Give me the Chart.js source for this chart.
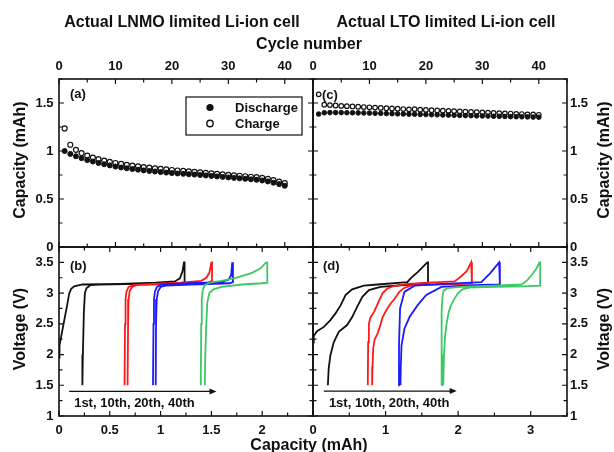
<!DOCTYPE html>
<html>
<head>
<meta charset="utf-8">
<script src="https://cdn.jsdelivr.net/npm/chart.js@4.4.0/dist/chart.umd.min.js"></script>
<style>
  body { margin: 0; width: 614px; height: 452px; overflow: hidden; position: relative; background: #fff;
         font-family: "Liberation Sans", Arial, sans-serif; font-weight: bold; color: #111; }
  canvas { position: absolute; left: 0; top: 0; }
  .t { position: absolute; white-space: nowrap; font-size: 16px; transform: translate(-50%, -50%); }
  .r { transform: translate(-50%, -50%) rotate(-90deg); }
</style>
</head>
<body>
<canvas id="chartA" width="614" height="452"></canvas>
<canvas id="chartB" width="614" height="452"></canvas>
<canvas id="chartC" width="614" height="452"></canvas>
<canvas id="chartD" width="614" height="452"></canvas>

<div class="t" style="left:182px;top:22px">Actual LNMO limited Li-ion cell</div>
<div class="t" style="left:446px;top:22px">Actual LTO limited Li-ion cell</div>
<div class="t" style="left:309px;top:44px">Cycle number</div>
<div class="t" style="left:309px;top:445px">Capacity (mAh)</div>
<div class="t r" style="left:20px;top:160px">Capacity (mAh)</div>
<div class="t r" style="left:604px;top:160px">Capacity (mAh)</div>
<div class="t r" style="left:20px;top:329px">Voltage (V)</div>
<div class="t r" style="left:604px;top:329px">Voltage (V)</div>

<script>
const cycles = [1, 2, 3, 4, 5, 6, 7, 8, 9, 10, 11, 12, 13, 14, 15, 16, 17, 18, 19, 20,
  21, 22, 23, 24, 25, 26, 27, 28, 29, 30, 31, 32, 33, 34, 35, 36, 37, 38, 39, 40];

// panel (a): LNMO limited cell, capacity per cycle (mAh)
const lnmoDischarge = [1.00, 0.97, 0.945, 0.925, 0.905, 0.89, 0.875, 0.862, 0.85, 0.838,
  0.828, 0.82, 0.812, 0.805, 0.798, 0.792, 0.786, 0.78, 0.775, 0.77,
  0.766, 0.762, 0.758, 0.754, 0.75, 0.745, 0.74, 0.735, 0.73, 0.725,
  0.72, 0.715, 0.71, 0.705, 0.70, 0.693, 0.683, 0.67, 0.655, 0.638];
const lnmoCharge = [1.235, 1.065, 1.012, 0.978, 0.952, 0.932, 0.915, 0.90, 0.887, 0.875,
  0.865, 0.856, 0.848, 0.84, 0.833, 0.826, 0.82, 0.814, 0.808, 0.802,
  0.797, 0.792, 0.787, 0.782, 0.777, 0.772, 0.767, 0.762, 0.757, 0.752,
  0.747, 0.742, 0.737, 0.732, 0.727, 0.72, 0.71, 0.697, 0.682, 0.665];

// panel (c): LTO limited cell
const ltoDischarge = [1.385, 1.398, 1.40, 1.40, 1.40, 1.399, 1.398, 1.397, 1.396, 1.395,
  1.393, 1.392, 1.39, 1.389, 1.387, 1.386, 1.384, 1.383, 1.381, 1.38,
  1.378, 1.377, 1.375, 1.374, 1.372, 1.371, 1.369, 1.368, 1.366, 1.365,
  1.364, 1.362, 1.361, 1.36, 1.358, 1.357, 1.356, 1.355, 1.353, 1.352];
const ltoCharge = [1.59, 1.482, 1.478, 1.474, 1.47, 1.467, 1.464, 1.461, 1.458, 1.455,
  1.452, 1.449, 1.446, 1.443, 1.44, 1.437, 1.434, 1.436, 1.43, 1.428,
  1.425, 1.422, 1.42, 1.418, 1.415, 1.412, 1.41, 1.407, 1.405, 1.402,
  1.40, 1.397, 1.395, 1.392, 1.39, 1.387, 1.385, 1.382, 1.38, 1.377];

// panel (b): voltage profiles [capacity mAh, voltage V], charge then discharge
const lnmo1st = [[0, 1.95], [0.005, 2.15], [0.02, 2.28], [0.045, 2.5], [0.08, 2.8], [0.1, 2.99],
  [0.12, 3.07], [0.15, 3.11], [0.23, 3.14], [0.6, 3.15], [0.95, 3.17], [1.14, 3.19], [1.19, 3.24],
  [1.215, 3.35], [1.23, 3.5], [1.236, 3.5], [1.236, 3.18], [1.2, 3.16], [0.8, 3.15], [0.4, 3.14],
  [0.31, 3.13], [0.27, 3.08], [0.255, 3.0], [0.245, 2.7], [0.235, 2.0], [0.23, 1.5]];
const lnmo10th = [[0.645, 1.5], [0.65, 2.5], [0.655, 2.9], [0.665, 3.03], [0.685, 3.1], [0.73, 3.13],
  [0.9, 3.15], [1.2, 3.17], [1.4, 3.2], [1.45, 3.25], [1.48, 3.33], [1.5, 3.5], [1.506, 3.5],
  [1.506, 3.2], [1.47, 3.17], [1.2, 3.15], [0.9, 3.14], [0.76, 3.13], [0.72, 3.1], [0.695, 3.03],
  [0.685, 2.9], [0.68, 2.5], [0.675, 1.5]];
const lnmo20th = [[0.925, 1.5], [0.93, 2.5], [0.935, 2.9], [0.945, 3.03], [0.965, 3.1], [1.01, 3.14],
  [1.3, 3.16], [1.6, 3.18], [1.67, 3.22], [1.695, 3.3], [1.705, 3.5], [1.712, 3.5], [1.712, 3.18],
  [1.68, 3.16], [1.3, 3.14], [1.05, 3.12], [1.0, 3.1], [0.975, 3.03], [0.962, 2.9], [0.955, 2.5],
  [0.952, 1.5]];
const lnmo40th = [[1.395, 1.5], [1.4, 2.5], [1.405, 2.9], [1.415, 3.05], [1.435, 3.13], [1.48, 3.17],
  [1.6, 3.2], [1.75, 3.25], [1.9, 3.33], [1.98, 3.4], [2.04, 3.5], [2.05, 3.5], [2.05, 3.17],
  [2.0, 3.16], [1.8, 3.14], [1.6, 3.1], [1.52, 3.06], [1.48, 3.0], [1.46, 2.85], [1.45, 2.5],
  [1.44, 2.0], [1.435, 1.5]];

// panel (d)
const lto1st = [[0, 2.2], [0.01, 2.3], [0.055, 2.38], [0.15, 2.45], [0.24, 2.56], [0.31, 2.67],
  [0.38, 2.8], [0.45, 2.97], [0.54, 3.06], [0.7, 3.12], [0.89, 3.14], [1.3, 3.18], [1.345, 3.24],
  [1.45, 3.35], [1.575, 3.5], [1.585, 3.5], [1.585, 3.16], [1.35, 3.14], [0.93, 3.1], [0.77, 3.05],
  [0.68, 2.94], [0.61, 2.78], [0.54, 2.61], [0.47, 2.48], [0.355, 2.37], [0.286, 2.2], [0.24, 1.99],
  [0.216, 1.77], [0.205, 1.5]];
const lto10th = [[0.755, 1.5], [0.76, 2.2], [0.77, 2.5], [0.79, 2.6], [0.84, 2.69], [0.9, 2.85],
  [0.96, 3.0], [1.02, 3.07], [1.1, 3.11], [1.3, 3.15], [1.6, 3.17], [1.95, 3.19], [2.04, 3.27],
  [2.12, 3.36], [2.18, 3.5], [2.19, 3.5], [2.19, 3.16], [2.1, 3.15], [1.7, 3.14], [1.45, 3.13],
  [1.35, 3.12], [1.25, 3.08], [1.19, 3.02], [1.12, 2.9], [1.07, 2.83], [1.01, 2.72], [0.96, 2.61],
  [0.92, 2.45], [0.89, 2.34], [0.85, 2.25], [0.83, 2.1], [0.82, 1.8], [0.815, 1.5]];
const lto20th = [[1.175, 1.5], [1.185, 2.15], [1.2, 2.75], [1.26, 3.02], [1.4, 3.12], [1.8, 3.15],
  [2.32, 3.18], [2.44, 3.32], [2.565, 3.5], [2.575, 3.5], [2.575, 3.14], [2.2, 3.13], [1.77, 3.1],
  [1.56, 2.97], [1.44, 2.8], [1.33, 2.61], [1.26, 2.42], [1.22, 2.15], [1.21, 1.8], [1.205, 1.5]];
const lto40th = [[1.765, 1.5], [1.77, 2.3], [1.775, 2.7], [1.785, 2.95], [1.8, 3.04], [1.85, 3.08],
  [2.04, 3.1], [2.5, 3.12], [2.88, 3.14], [2.96, 3.22], [3.01, 3.29], [3.08, 3.4], [3.12, 3.5],
  [3.13, 3.5], [3.13, 3.12], [2.9, 3.11], [2.5, 3.1], [2.15, 3.09], [2.06, 3.06], [2.0, 3.0],
  [1.95, 2.91], [1.9, 2.8], [1.87, 2.69], [1.84, 2.5], [1.82, 2.3], [1.805, 2.0], [1.795, 1.5]];

const CYCLE_COLORS = ["#111111", "#ff1a1a", "#1a1aff", "#3cc864"];
const INK = "#111";
const FONT_FAMILY = '"Liberation Sans", Arial, sans-serif';
const TICK_FONT = { family: FONT_FAMILY, size: 13, weight: "bold" };

// plot rectangles, and the room each axis gets for its labels
const LEFT = 59, MID = 313, RIGHT = 567, TOP = 79, ROW = 247, BOTTOM = 416;
const AXIS_W = 40, AXIS_H = 24;

function isStep(v, step) {
  const r = v / step;
  return Math.abs(r - Math.round(r)) < 1e-6;
}

function tickLabel(step, lastLabel) {
  return (v) => (isStep(v, step) && v <= lastLabel + 1e-9 ? String(+v.toFixed(2)) : "");
}

function xAxis(position, min, max, step, lastLabel, padding) {
  return {
    type: "linear", position, min, max,
    afterFit: (s) => { s.height = AXIS_H; },
    grid: { display: false, drawTicks: false },
    border: { display: false },
    ticks: { stepSize: step, autoSkip: false, maxRotation: 0, padding, color: INK,
      font: TICK_FONT, callback: tickLabel(step, lastLabel) }
  };
}

function yAxis(position, min, max, step, padding) {
  return {
    type: "linear", position, min, max,
    afterFit: (s) => { s.width = AXIS_W; },
    grid: { display: false, drawTicks: false },
    border: { display: false },
    ticks: { stepSize: step, autoSkip: false, padding, color: INK,
      font: TICK_FONT, callback: tickLabel(step, max) }
  };
}

function framePlugin(cfg) {
  return {
    id: "frame",
    afterDatasetsDraw(chart) {
      const { ctx, chartArea: a } = chart;
      const xs = chart.scales.x, ys = chart.scales.y;
      ctx.save();
      ctx.strokeStyle = INK;
      ctx.lineWidth = 1.2;
      ctx.beginPath();
      const nx = Math.round((xs.max - xs.min) / cfg.xMinor);
      for (let i = 0; i <= nx; i++) {
        const v = xs.min + i * cfg.xMinor;
        const px = xs.getPixelForValue(v);
        const len = isStep(v, cfg.xMajor) ? 5 : 3.5;
        ctx.moveTo(px, a.top); ctx.lineTo(px, a.top + len);
        ctx.moveTo(px, a.bottom); ctx.lineTo(px, a.bottom - len);
      }
      const ny = Math.round((ys.max - ys.min) / cfg.yMinor);
      for (let i = 0; i <= ny; i++) {
        const v = ys.min + i * cfg.yMinor;
        const py = ys.getPixelForValue(v);
        const len = isStep(v, cfg.yMajor) ? 5 : 3.5;
        ctx.moveTo(a.left, py); ctx.lineTo(a.left + len, py);
        ctx.moveTo(a.right, py); ctx.lineTo(a.right - len, py);
      }
      ctx.stroke();
      ctx.lineWidth = 1.6;
      ctx.strokeRect(a.left, a.top, a.right - a.left, a.bottom - a.top);

      ctx.fillStyle = INK;
      ctx.font = "bold 13px " + FONT_FAMILY;
      ctx.textBaseline = "middle";
      ctx.textAlign = "left";
      ctx.fillText(cfg.tag, a.left + cfg.tagDx, a.top + cfg.tagDy);
      if (cfg.decorate) cfg.decorate(chart, ctx, a, xs, ys);
      ctx.restore();
    }
  };
}

function drawArrow(ctx, xs, ys, x0, x1, y) {
  const px0 = xs.getPixelForValue(x0), px1 = xs.getPixelForValue(x1);
  const py = ys.getPixelForValue(y);
  ctx.lineWidth = 1.2;
  ctx.beginPath();
  ctx.moveTo(px0, py); ctx.lineTo(px1 - 4, py);
  ctx.stroke();
  ctx.beginPath();
  ctx.moveTo(px1, py); ctx.lineTo(px1 - 7, py - 3); ctx.lineTo(px1 - 7, py + 3);
  ctx.closePath();
  ctx.fill();
  ctx.fillText("1st, 10th, 20th, 40th", px0 + 5, py + 12.5);
}

function drawLegend(ctx, a) {
  const bx = a.left + 127, by = a.top + 18;
  ctx.lineWidth = 1.2;
  ctx.strokeRect(bx, by, 116, 38);
  ctx.beginPath();
  ctx.arc(bx + 24, by + 10.5, 3.6, 0, Math.PI * 2);
  ctx.fill();
  ctx.beginPath();
  ctx.arc(bx + 24, by + 26.5, 3.2, 0, Math.PI * 2);
  ctx.fillStyle = "#fff";
  ctx.fill();
  ctx.lineWidth = 1.4;
  ctx.stroke();
  ctx.fillStyle = INK;
  ctx.fillText("Discharge", bx + 49, by + 11);
  ctx.fillText("Charge", bx + 49, by + 27);
}

// layout padding so that the chart area lands on the given rectangle
function pad(l, t, r, b, yPos, xPos) {
  return {
    left: l - (yPos === "left" ? AXIS_W : 0),
    right: 614 - r - (yPos === "right" ? AXIS_W : 0),
    top: t - (xPos === "top" ? AXIS_H : 0),
    bottom: 452 - b - (xPos === "bottom" ? AXIS_H : 0)
  };
}

function baseOptions(padding, scales) {
  return {
    responsive: false,
    animation: false,
    devicePixelRatio: 1,
    layout: { padding },
    plugins: { legend: { display: false }, tooltip: { enabled: false }, title: { display: false } },
    events: [],
    scales
  };
}

function cycleSets(discharge, charge, radius) {
  return [
    { label: "Discharge", data: cycles.map((c, i) => ({ x: c, y: discharge[i] })), showLine: false,
      pointRadius: radius, backgroundColor: INK, borderColor: INK, borderWidth: 1 },
    { label: "Charge", data: cycles.map((c, i) => ({ x: c, y: charge[i] })), showLine: false,
      pointRadius: radius, backgroundColor: "#fff", borderColor: INK, borderWidth: 1.2 }
  ];
}

function profileSets(curves) {
  return curves.map((pts, i) => ({
    label: ["1st", "10th", "20th", "40th"][i],
    data: pts.map(([x, y]) => ({ x, y })),
    showLine: true, pointRadius: 0, borderColor: CYCLE_COLORS[i], borderWidth: 1.8, tension: 0
  })).reverse();
}

Chart.defaults.font.family = FONT_FAMILY;

new Chart(document.getElementById("chartA"), {
  type: "scatter",
  data: { datasets: cycleSets(lnmoDischarge, lnmoCharge, 2.5) },
  options: baseOptions(pad(LEFT, TOP, MID, ROW, "left", "top"), {
    x: xAxis("top", 0, 45, 10, 40, 4.5),
    y: yAxis("left", 0, 1.75, 0.5, 5.5)
  }),
  plugins: [framePlugin({ xMajor: 10, xMinor: 5, yMajor: 0.5, yMinor: 0.25, tag: "(a)", tagDx: 11, tagDy: 15.5,
    decorate: (chart, ctx, a) => drawLegend(ctx, a) })]
});

new Chart(document.getElementById("chartC"), {
  type: "scatter",
  data: { datasets: cycleSets(ltoDischarge, ltoCharge, 2.3) },
  options: baseOptions(pad(MID, TOP, RIGHT, ROW, "right", "top"), {
    x: xAxis("top", 0, 45, 10, 40, 4.5),
    y: yAxis("right", 0, 1.75, 0.5, 3)
  }),
  plugins: [framePlugin({ xMajor: 10, xMinor: 5, yMajor: 0.5, yMinor: 0.25, tag: "(c)", tagDx: 9, tagDy: 16 })]
});

new Chart(document.getElementById("chartB"), {
  type: "scatter",
  data: { datasets: profileSets([lnmo1st, lnmo10th, lnmo20th, lnmo40th]) },
  options: baseOptions(pad(LEFT, ROW, MID, BOTTOM, "left", "bottom"), {
    x: xAxis("bottom", 0, 2.5, 0.5, 2, 6.2),
    y: yAxis("left", 1, 3.75, 0.5, 5.5)
  }),
  plugins: [framePlugin({ xMajor: 0.5, xMinor: 0.25, yMajor: 0.5, yMinor: 0.25, tag: "(b)", tagDx: 11, tagDy: 19.5,
    decorate: (chart, ctx, a, xs, ys) => drawArrow(ctx, xs, ys, 0.1, 1.55, 1.4) })]
});

new Chart(document.getElementById("chartD"), {
  type: "scatter",
  data: { datasets: profileSets([lto1st, lto10th, lto20th, lto40th]) },
  options: baseOptions(pad(MID, ROW, RIGHT, BOTTOM, "right", "bottom"), {
    x: xAxis("bottom", 0, 3.5, 1, 3, 6.2),
    y: yAxis("right", 1, 3.75, 0.5, 3)
  }),
  plugins: [framePlugin({ xMajor: 1, xMinor: 0.5, yMajor: 0.5, yMinor: 0.25, tag: "(d)", tagDx: 10, tagDy: 19.5,
    decorate: (chart, ctx, a, xs, ys) => drawArrow(ctx, xs, ys, 0.15, 1.98, 1.405) })]
});
</script>
</body>
</html>
